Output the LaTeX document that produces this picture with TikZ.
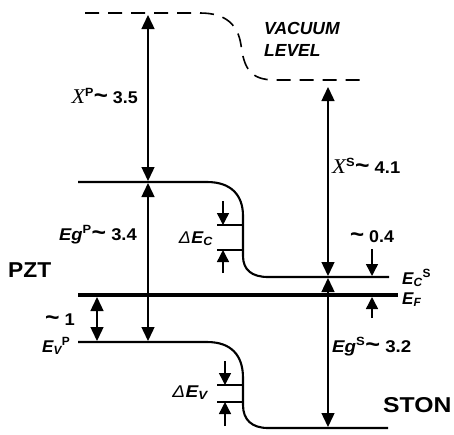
\documentclass[tikz,border=0pt]{standalone}
\usepackage{fontspec}
\usepackage{graphicx}
\setmainfont{Liberation Sans}
\newfontfamily\serifrm{Liberation Serif}
\usetikzlibrary{arrows.meta}
\tikzset{
  band/.style={line width=2.1pt},
  fermi/.style={line width=3.2pt},
  vac/.style={line width=1.6pt, dash pattern=on 14pt off 9pt},
  dimarrow/.style={line width=1.4pt, {Triangle[length=14pt,width=13pt]}-{Triangle[length=14pt,width=13pt]}},
  onearrow/.style={line width=1.4pt, -{Triangle[length=12pt,width=12pt]}},
  tickline/.style={line width=1.4pt},
  lab/.style={font=\bfseries\fontsize{17}{20}\selectfont, inner sep=0pt},
  labit/.style={font=\bfseries\itshape\fontsize{17}{20}\selectfont, inner sep=0pt},
  big/.style={font=\bfseries\fontsize{21.5}{26}\selectfont, inner sep=0pt},
}
\newcommand{\Xsym}{{\serifrm\mdseries\itshape\fontsize{21}{22}\selectfont X}}
\newcommand{\tld}{\scalebox{1.35}[1.4]{\textasciitilde}}
\newcommand{\hstretch}[2]{\scalebox{#1}[1]{#2}}
\begin{document}
\begin{tikzpicture}[x=1pt,y=-1pt]
\useasboundingbox (0,0) rectangle (454,434);
% level coordinates
\coordinate (vacL) at (148,15);
\coordinate (cbLtop) at (148,181);
\coordinate (cbLbot) at (148,183);
\coordinate (vbL) at (148,341);
\coordinate (efA) at (97,297);
\coordinate (vbA) at (97,341);
\coordinate (vacR) at (328,87);
\coordinate (cbRtop) at (328,276);
\coordinate (cbRbot) at (328,278);
\coordinate (vbR) at (328,427);
\coordinate (o4a) at (372,249);
\coordinate (o4b) at (372,276);
\coordinate (o4c) at (372,318);
\coordinate (o4d) at (372,297);
\coordinate (dca) at (223,201);
\coordinate (dcb) at (223,225);
\coordinate (dcc) at (223,273);
\coordinate (dcd) at (223,250);
\coordinate (dva) at (225,361);
\coordinate (dvb) at (225,385);
\coordinate (dvc) at (225,426);
\coordinate (dvd) at (225,402);
% vacuum level
\draw[vac] (85,13) -- (200,13) .. controls (226,13) and (238,25) .. (241,45)
  .. controls (244,68) and (250,80) .. (275,80) -- (364,80);
% conduction band
\draw[band] (78,182) -- (207,182) .. controls (231,182) and (243,195) .. (243,216)
  -- (243,256) .. controls (243,270) and (252,277) .. (268,277) -- (389,277);
% Fermi level
\draw[fermi] (78,295) -- (398,295);
% valence band
\draw[band] (78,342) -- (207,342) .. controls (231,342) and (243,355) .. (243,378)
  -- (243,405) .. controls (243,420) and (252,428) .. (268,428) -- (388,428);
% offsets ticks
\draw[tickline] (217,225) -- (243,225);
\draw[tickline] (217,250) -- (243,250);
\draw[tickline] (217,385) -- (243,385);
\draw[tickline] (217,402) -- (243,402);
% arrows
\draw[dimarrow] (vacL) -- (cbLtop);
\draw[dimarrow] (cbLbot) -- (vbL);
\draw[dimarrow] (efA) -- (vbA);
\draw[dimarrow] (vacR) -- (cbRtop);
\draw[dimarrow] (cbRbot) -- (vbR);
\draw[onearrow] (o4a) -- (o4b);
\draw[onearrow] (o4c) -- (o4d);
\draw[onearrow] (dca) -- (dcb);
\draw[onearrow] (dcc) -- (dcd);
\draw[onearrow] (dva) -- (dvb);
\draw[onearrow] (dvc) -- (dvd);
% labels
\node[labit, font=\bfseries\itshape\fontsize{17.5}{22}\selectfont, anchor=north west, align=left] (vactext) at (264,22) {VACUUM\\LEVEL};
\node[lab, anchor=base east] (xp) at (138,103) {\hstretch{1.05}{\Xsym\textsuperscript{P}\tld\ 3.5}};
\node[lab, anchor=base west] (xs) at (332,173) {\hstretch{1.08}{\Xsym\textsuperscript{S}\tld\ 4.1}};
\node[lab, anchor=base east] (egp) at (137,240) {\hstretch{1.08}{\textit{Eg}\textsuperscript{P}\tld\ 3.4}};
\node[lab, anchor=base west] (egs) at (332,352) {\hstretch{1.1}{\textit{Eg}\textsuperscript{S}\tld\ 3.2}};
\node[labit, anchor=base east] (dec) at (213,243) {\hstretch{1.05}{{\mdseries Δ}\kern0.5pt E\textsubscript{C}}};
\node[labit, anchor=base east] (dev) at (208,397) {\hstretch{1.12}{{\mdseries Δ}\kern0.5pt E\textsubscript{V}}};
\node[lab, anchor=base west] (o4) at (350,242) {\hstretch{1.05}{\tld\ 0.4}};
\node[lab, anchor=base east] (one) at (75,325) {\hstretch{1.08}{\tld\ 1}};
\node[lab, anchor=base west] (ecs) at (402,284) {\textit{E\textsubscript{C}}\textsuperscript{S}};
\node[lab, anchor=base west] (ef) at (402,304) {\textit{E\textsubscript{F}}};
\node[lab, anchor=base west] (evp) at (42,352) {\textit{E\textsubscript{V}}\textsuperscript{P}};
\node[big, anchor=base west] (pzt) at (8,277) {\hstretch{1.06}{PZT}};
\node[big, anchor=base west] (ston) at (383,412) {\hstretch{1.15}{STON}};
\end{tikzpicture}
\end{document}
